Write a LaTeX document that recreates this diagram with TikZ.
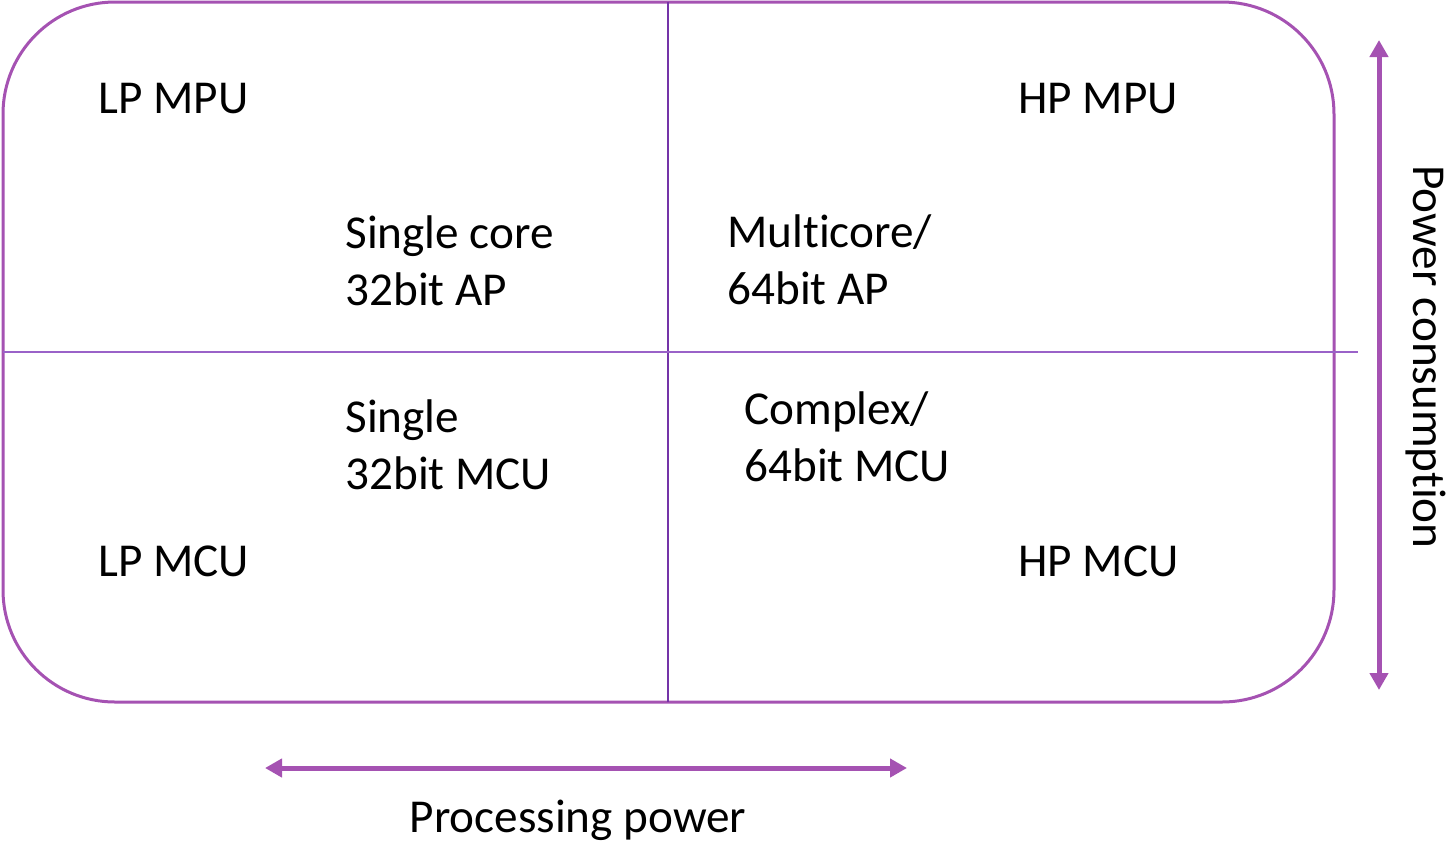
\documentclass[tikz,border=0pt]{standalone}
\usepackage{fontspec}
\setmainfont[Ligatures=NoCommon]{Carlito}
\usetikzlibrary{arrows.meta}
\definecolor{frame}{HTML}{A552B2}
\definecolor{vdiv}{HTML}{7434A8}
\definecolor{hdiv}{HTML}{9A62C8}
\begin{document}
\begin{tikzpicture}[x=0.5pt, y=-0.5pt,
  lbl/.style={anchor=base west, inner sep=0pt, align=left, font=\fontsize{23.6}{28.5}\selectfont},
  axis/.style={draw=frame, line width=2.5pt, {Triangle[length=8.5pt,width=9pt]}-{Triangle[length=8.5pt,width=9pt]}}]
\useasboundingbox (0,0) rectangle (1448,843);
% outer frame and quadrants
\draw[frame, line width=1.5pt, rounded corners=56pt] (3,2) rectangle (1334,702);
\coordinate (vtop) at (668,2);
\coordinate (vbot) at (668,702);
\coordinate (hleft) at (3,352);
\coordinate (hright) at (1358,352);
\draw[vdiv, line width=1pt] (vtop) -- (vbot);
\draw[hdiv, line width=1pt] (hleft) -- (hright);
% corner labels
\node[lbl] (lpmpu) at (98,113) {LP MPU};
\node[lbl] (hpmpu) at (1018,113) {HP MPU};
\node[lbl] (lpmcu) at (98,576) {LP MCU};
\node[lbl] (hpmcu) at (1018,576) {HP MCU};
% inner labels (base = last line)
\node[lbl] (sap) at (345,305) {Single core\\32bit AP};
\node[lbl] (map) at (727,304) {Multicore/\\64bit AP};
\node[lbl] (smcu) at (345,489) {Single\\32bit MCU};
\node[lbl] (cmcu) at (744,481) {Complex/\\64bit MCU};
% axes
\coordinate (ptop) at (1379,40);
\coordinate (pbot) at (1379,690);
\coordinate (pleft) at (265,768);
\coordinate (pright) at (907,768);
\draw[axis] (ptop) -- (pbot);
\draw[axis] (pleft) -- (pright);
\node[lbl, anchor=base] (proc) at (578,832) {Processing power};
\node[lbl, anchor=base, rotate=-90] (pwr) at (1413,357) {Power consumption};
\end{tikzpicture}
\end{document}
